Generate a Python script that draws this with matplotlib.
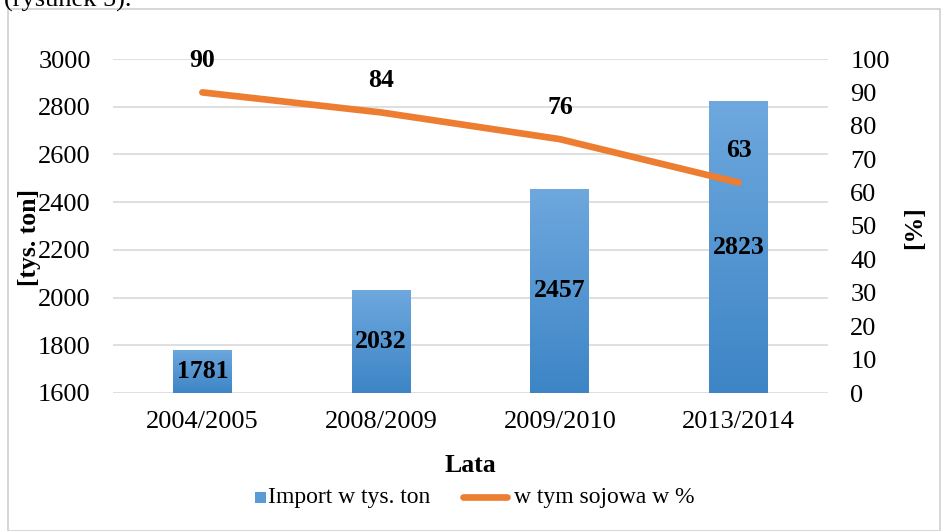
import numpy as np
import matplotlib
matplotlib.use('Agg')
import matplotlib.pyplot as plt
from matplotlib.patches import Rectangle
from matplotlib.lines import Line2D

years = ['2004/2005', '2008/2009', '2009/2010', '2013/2014']
import_tys = [1781, 2032, 2457, 2823]
soy_pct = [90, 84, 76, 63]

plt.rcParams['font.family'] = ['Liberation Serif', 'DejaVu Serif']

W, H = 943, 531
fig = plt.figure(figsize=(W / 100, H / 100), dpi=100)

def fx(px):
    return px / W

def fy(py):
    return 1 - py / H

# frame around the chart and the cut-off text above it
fig.patches.append(Rectangle((fx(8), fy(531)), fx(932), fy(9) - fy(531), transform=fig.transFigure,
                             fill=False, edgecolor='#d0d0d0', linewidth=1.2))
fig.text(fx(4), fy(6.5), '(rysunek 5).', fontsize=19, ha='left', va='baseline')

ax = fig.add_axes([fx(113), fy(393), fx(828) - fx(113), fy(59) - fy(393)])
x = np.arange(len(years))
bars = ax.bar(x, import_tys, width=0.33, bottom=0, color='#5b9bd5', zorder=2)

# vertical gradient fill in bars
grad = np.linspace(0, 1, 256).reshape(-1, 1)
cmap = matplotlib.colors.LinearSegmentedColormap.from_list('g', ['#3d85c6', '#6ea8de'])
for b in bars:
    bx, bw, bh = b.get_x(), b.get_width(), b.get_height()
    im = ax.imshow(grad, cmap=cmap, origin='lower', aspect='auto',
                   extent=[bx, bx + bw, 1600, bh], zorder=2.1)
    im.set_clip_path(b)
ax.set_xlim(-0.5, len(years) - 0.5)
ax.set_ylim(1600, 3000)

for xi, v in zip(x, import_tys):
    ax.text(xi, (1600 + v) / 2, str(v), ha='center', va='center', fontsize=18.5,
            fontweight='bold', zorder=5)

ax.set_yticks(np.arange(1600, 3001, 200))
ax.grid(axis='y', color='#d9d9d9', linewidth=1.2, zorder=0)
ax.set_axisbelow(True)
for s in ax.spines.values():
    s.set_visible(False)
ax.tick_params(length=0, labelsize=19, pad=16)
ax.tick_params(axis='x', pad=13)
ax.set_xticks(x)
ax.set_xticklabels(years)

ax2 = ax.twinx()
ax2.plot(x, soy_pct, color='#ed7d31', linewidth=4.8, solid_capstyle='round', zorder=3)
ax2.set_ylim(0, 100)
ax2.set_yticks(np.arange(0, 101, 10))
for s in ax2.spines.values():
    s.set_visible(False)
ax2.tick_params(length=0, labelsize=19, pad=16)
for xi, v in zip(x, soy_pct):
    ax2.annotate(str(v), (xi, v), xytext=(0, 23), textcoords='offset points',
                 ha='center', va='center', fontsize=18.5, fontweight='bold')

fig.text(fx(470), fy(465), 'Lata', ha='center', va='center', fontsize=18.5, fontweight='bold')
fig.text(fx(30), fy(238), '[tys. ton]', ha='center', va='center', rotation=90,
         fontsize=18.5, fontweight='bold')
fig.text(fx(915), fy(228), '[%]', ha='center', va='center', rotation=90,
         fontsize=18.5, fontweight='bold')

# legend
fig.patches.append(Rectangle((fx(255), fy(503)), fx(11), fy(492) - fy(503), transform=fig.transFigure,
                             facecolor='#5b9bd5', edgecolor='none'))
fig.text(fx(268), fy(497), 'Import w tys. ton', ha='left', va='center', fontsize=17)
fig.lines.append(Line2D([fx(463), fx(507)], [fy(497), fy(497)], transform=fig.transFigure,
                        color='#ed7d31', linewidth=4.8, solid_capstyle='round'))
fig.text(fx(514), fy(497), 'w tym sojowa w %', ha='left', va='center', fontsize=17)

fig.savefig('out.png', dpi=100)
